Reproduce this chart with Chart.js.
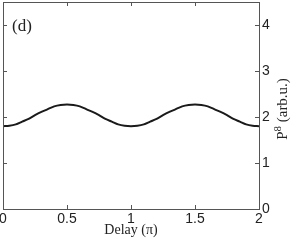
<!DOCTYPE html>
<html><head><meta charset="utf-8">
<script src="https://cdn.jsdelivr.net/npm/chart.js@4"></script>
<style>html,body{margin:0;padding:0;background:#fff}#w{width:291px;height:240px;position:relative}</style>
</head><body><div id="w"><canvas id="c"></canvas></div>
<script>
const delay = [0,0.05,0.1,0.15,0.2,0.25,0.3,0.35,0.4,0.45,0.5,0.55,0.6,0.65,0.7,0.75,0.8,0.85,0.9,0.95,1,
               1.05,1.1,1.15,1.2,1.25,1.3,1.35,1.4,1.45,1.5,1.55,1.6,1.65,1.7,1.75,1.8,1.85,1.9,1.95,2];
const p8 = [1.80,1.81,1.84,1.90,1.96,2.04,2.11,2.17,2.23,2.26,2.27,2.26,2.23,2.17,2.11,2.04,1.96,1.90,1.84,1.81,1.80,
            1.81,1.84,1.90,1.96,2.04,2.11,2.17,2.23,2.26,2.27,2.26,2.23,2.17,2.11,2.04,1.96,1.90,1.84,1.81,1.80];
const xTicks = [0,0.5,1,1.5,2];
const yTicks = [0,1,2,3,4];
const xTitle = 'Delay (\u03c0)';
const yTitleMain = 'P', yTitleSup = '8', yTitleRest = ' (arb.u.)';
const panelLabel = '(d)';

const sans = '"Liberation Sans", Arial, sans-serif';
const serif = '"Liberation Serif", "Times New Roman", serif';
const txt = '#222';

const boxPlugin = {
  id: 'box',
  afterDraw(chart) {
    const ctx = chart.ctx, a = chart.chartArea;
    const xs = chart.scales.x, ys = chart.scales.y;
    ctx.save();
    ctx.strokeStyle = '#555';
    ctx.lineWidth = 1;
    ctx.strokeRect(Math.round(a.left)+0.5, Math.round(a.top)+0.5, Math.round(a.right-a.left), Math.round(a.bottom-a.top));
    const L = 4;
    ctx.beginPath();
    xTicks.forEach(v => {
      const px = Math.round(xs.getPixelForValue(v)) + 0.5;
      ctx.moveTo(px, a.bottom); ctx.lineTo(px, a.bottom - L);
      ctx.moveTo(px, a.top); ctx.lineTo(px, a.top + L);
    });
    yTicks.forEach(v => {
      const py = Math.round(ys.getPixelForValue(v)) + 0.5;
      ctx.moveTo(a.right, py); ctx.lineTo(a.right - L, py);
      ctx.moveTo(a.left, py); ctx.lineTo(a.left + L, py);
    });
    ctx.stroke();
    ctx.fillStyle = txt;
    ctx.font = '17px ' + serif;
    ctx.textBaseline = 'alphabetic';
    ctx.textAlign = 'left';
    ctx.fillText(panelLabel, 12, 31);
    ctx.translate(287, 109);
    ctx.rotate(-Math.PI/2);
    const fMain = '15px ' + serif, fSup = '11px ' + serif;
    ctx.font = fMain; const w1 = ctx.measureText(yTitleMain).width;
    const w3 = ctx.measureText(yTitleRest).width;
    ctx.font = fSup; const w2 = ctx.measureText(yTitleSup).width;
    let x0 = -(w1 + w2 + w3) / 2;
    ctx.font = fMain; ctx.fillText(yTitleMain, x0, 0);
    ctx.font = fSup; ctx.fillText(yTitleSup, x0 + w1, -6);
    ctx.font = fMain; ctx.fillText(yTitleRest, x0 + w1 + w2, 0);
    ctx.restore();
  }
};

new Chart(document.getElementById('c'), {
  type: 'line',
  data: {
    datasets: [{
      data: delay.map((x, i) => ({x: x, y: p8[i]})),
      borderColor: '#1a1a1a',
      borderWidth: 2,
      pointRadius: 0,
      cubicInterpolationMode: 'monotone',
      fill: false
    }]
  },
  options: {
    responsive: true,
    maintainAspectRatio: false,
    animation: false,
    devicePixelRatio: 1,
    layout: {padding: {top: 2, left: 3, right: 0, bottom: 0}},
    plugins: {legend: {display: false}, tooltip: {enabled: false}},
    scales: {
      x: {
        type: 'linear', min: 0, max: 2,
        afterBuildTicks: s => { s.ticks = xTicks.map(v => ({value: v})); },
        afterFit: s => { s.height = 31; s.paddingLeft = 0; s.paddingRight = 0; },
        grid: {display: false, drawTicks: false}, border: {display: false},
        ticks: {font: {family: sans, size: 14}, color: txt, padding: 2, maxRotation: 0, autoSkip: false,
                callback: v => String(v)},
        title: {display: true, text: xTitle, font: {family: serif, size: 14}, color: txt, padding: {top: 0, bottom: 1}}
      },
      y: {
        type: 'linear', position: 'right', min: 0, max: 4.5,
        afterBuildTicks: s => { s.ticks = yTicks.map(v => ({value: v})); },
        afterFit: s => { s.width = 32; s.paddingTop = 0; s.paddingBottom = 0; },
        grid: {display: false, drawTicks: false}, border: {display: false},
        ticks: {font: {family: sans, size: 14}, color: txt, padding: 3, callback: v => String(v)}
      }
    }
  },
  plugins: [boxPlugin]
});
</script></body></html>
